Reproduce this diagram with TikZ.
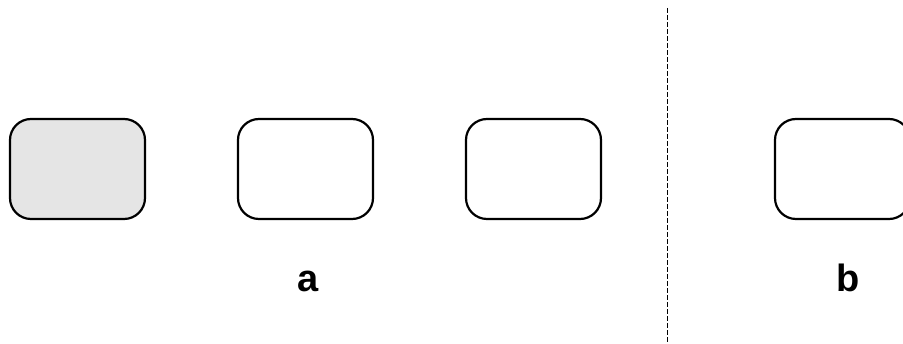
\documentclass[tikz,border=0pt]{standalone}
\usepackage{fontspec}
\setmainfont{Liberation Sans}
\begin{document}
\begin{tikzpicture}[x=1pt,y=-1pt,
  stage/.style={draw=black,line width=2.2pt,rounded corners=21pt,minimum width=135pt,minimum height=100pt,inner sep=0pt},
  lbl/.style={font=\fontsize{38}{46}\selectfont\bfseries,inner sep=0pt,anchor=base}]
\clip (0,0) rectangle (903,344);
\fill[white] (0,0) rectangle (903,344);
\node[stage,fill={rgb,255:red,229;green,229;blue,229}] (s1) at (77.5,169) {};
\node[stage] (s2) at (305.5,169) {};
\node[stage] (s3) at (533.5,169) {};
\node[stage] (s4) at (842.5,169) {};
\node[lbl] (a) at (308,292) {a};
\node[lbl] (b) at (848,292) {b};
\coordinate (d1) at (667.5,8);
\coordinate (d2) at (667.5,344);
\draw[line width=1.6pt,dash pattern=on 5pt off 2pt] (d1) -- (d2);
\end{tikzpicture}
\end{document}
